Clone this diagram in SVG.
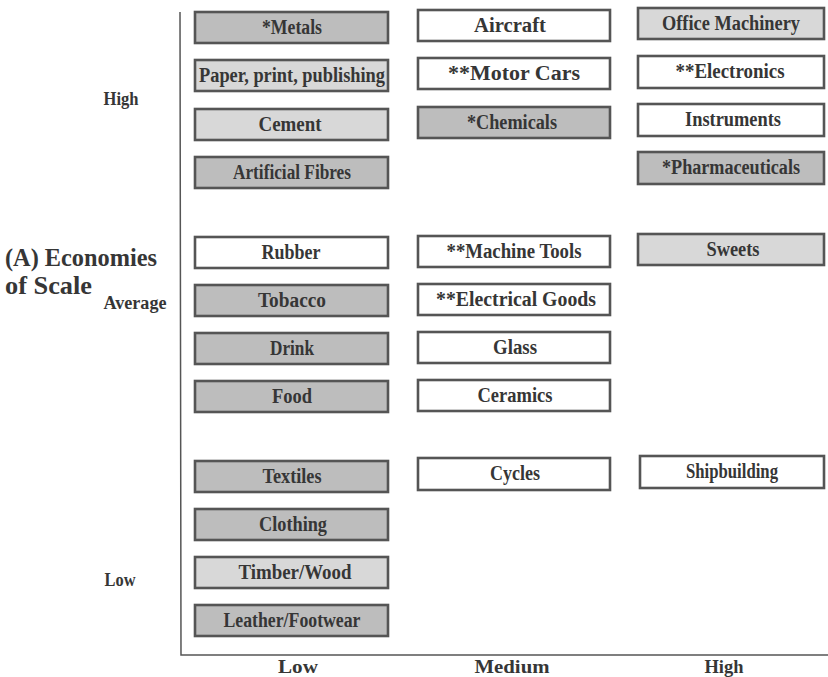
<svg xmlns="http://www.w3.org/2000/svg" width="828" height="677" viewBox="0 0 828 677">
<style>
.box{stroke:#555555;stroke-width:2.6}
.w{fill:#ffffff}
.d{fill:#bdbdbd}
.l{fill:#d8d8d8}
text{font-family:"Liberation Serif","Times New Roman",serif;font-weight:bold;fill:#363636;text-anchor:middle}
.bt{font-size:20px}
.ax{font-size:18px}
.title{font-size:25px;text-anchor:start}
.axis{stroke:#555;stroke-width:1.5;fill:none}
</style>
<rect width="828" height="677" fill="#ffffff"/>
<g id="axes">
<polyline class="axis" points="180,12 181,655 828,655"/>
</g>
<g id="labels">
<text class="ax" x="121" y="105" textLength="35" lengthAdjust="spacingAndGlyphs">High</text>
<text class="title" x="5" y="266" textLength="152" lengthAdjust="spacingAndGlyphs">(A) Economies</text>
<text class="title" x="5" y="294" textLength="87" lengthAdjust="spacingAndGlyphs">of Scale</text>
<text class="ax" x="135" y="309" textLength="63" lengthAdjust="spacingAndGlyphs">Average</text>
<text class="ax" x="120" y="586" textLength="31" lengthAdjust="spacingAndGlyphs">Low</text>
<text class="ax" x="298" y="673" textLength="40" lengthAdjust="spacingAndGlyphs">Low</text>
<text class="ax" x="512" y="673" textLength="75" lengthAdjust="spacingAndGlyphs">Medium</text>
<text class="ax" x="724" y="673" textLength="39" lengthAdjust="spacingAndGlyphs">High</text>
</g>
<g id="n-metals"><rect class="box d" x="195" y="12" width="193" height="31"/><text class="bt" x="292" y="34" textLength="60" lengthAdjust="spacingAndGlyphs">*Metals</text></g>
<g id="n-paper"><rect class="box l" x="195" y="60" width="193" height="31"/><text class="bt" x="292" y="82" textLength="186" lengthAdjust="spacingAndGlyphs">Paper, print, publishing</text></g>
<g id="n-cement"><rect class="box l" x="195" y="109" width="193" height="31"/><text class="bt" x="290" y="131" textLength="63" lengthAdjust="spacingAndGlyphs">Cement</text></g>
<g id="n-fibres"><rect class="box d" x="195" y="157" width="193" height="31"/><text class="bt" x="292" y="179" textLength="118" lengthAdjust="spacingAndGlyphs">Artificial Fibres</text></g>
<g id="n-rubber"><rect class="box w" x="195" y="237" width="193" height="31"/><text class="bt" x="291" y="259" textLength="59" lengthAdjust="spacingAndGlyphs">Rubber</text></g>
<g id="n-tobacco"><rect class="box d" x="195" y="285" width="193" height="31"/><text class="bt" x="292" y="307" textLength="68" lengthAdjust="spacingAndGlyphs">Tobacco</text></g>
<g id="n-drink"><rect class="box d" x="195" y="333" width="193" height="31"/><text class="bt" x="292" y="355" textLength="44" lengthAdjust="spacingAndGlyphs">Drink</text></g>
<g id="n-food"><rect class="box d" x="195" y="381" width="193" height="31"/><text class="bt" x="292" y="403" textLength="40" lengthAdjust="spacingAndGlyphs">Food</text></g>
<g id="n-textiles"><rect class="box d" x="195" y="461" width="193" height="31"/><text class="bt" x="292" y="483" textLength="59" lengthAdjust="spacingAndGlyphs">Textiles</text></g>
<g id="n-clothing"><rect class="box d" x="195" y="509" width="193" height="31"/><text class="bt" x="293" y="531" textLength="68" lengthAdjust="spacingAndGlyphs">Clothing</text></g>
<g id="n-timber"><rect class="box l" x="195" y="557" width="193" height="31"/><text class="bt" x="295" y="579" textLength="113" lengthAdjust="spacingAndGlyphs">Timber/Wood</text></g>
<g id="n-leather"><rect class="box d" x="195" y="605" width="193" height="31"/><text class="bt" x="292" y="627" textLength="137" lengthAdjust="spacingAndGlyphs">Leather/Footwear</text></g>
<g id="n-aircraft"><rect class="box w" x="418" y="10" width="192" height="31"/><text class="bt" x="510" y="32" textLength="72" lengthAdjust="spacingAndGlyphs">Aircraft</text></g>
<g id="n-motorcars"><rect class="box w" x="418" y="58" width="192" height="31"/><text class="bt" x="514" y="80" textLength="132" lengthAdjust="spacingAndGlyphs">**Motor Cars</text></g>
<g id="n-chemicals"><rect class="box d" x="418" y="107" width="192" height="31"/><text class="bt" x="512" y="129" textLength="90" lengthAdjust="spacingAndGlyphs">*Chemicals</text></g>
<g id="n-machinetools"><rect class="box w" x="418" y="236" width="192" height="31"/><text class="bt" x="514" y="258" textLength="135" lengthAdjust="spacingAndGlyphs">**Machine Tools</text></g>
<g id="n-electrical"><rect class="box w" x="418" y="284" width="192" height="31"/><text class="bt" x="516" y="306" textLength="160" lengthAdjust="spacingAndGlyphs">**Electrical Goods</text></g>
<g id="n-glass"><rect class="box w" x="418" y="332" width="192" height="31"/><text class="bt" x="515" y="354" textLength="44" lengthAdjust="spacingAndGlyphs">Glass</text></g>
<g id="n-ceramics"><rect class="box w" x="418" y="380" width="192" height="31"/><text class="bt" x="515" y="402" textLength="75" lengthAdjust="spacingAndGlyphs">Ceramics</text></g>
<g id="n-cycles"><rect class="box w" x="418" y="458" width="192" height="32"/><text class="bt" x="515" y="480" textLength="50" lengthAdjust="spacingAndGlyphs">Cycles</text></g>
<g id="n-office"><rect class="box l" x="638" y="8" width="186" height="31"/><text class="bt" x="731" y="30" textLength="138" lengthAdjust="spacingAndGlyphs">Office Machinery</text></g>
<g id="n-electronics"><rect class="box w" x="638" y="56" width="186" height="32"/><text class="bt" x="730" y="78" textLength="109" lengthAdjust="spacingAndGlyphs">**Electronics</text></g>
<g id="n-instruments"><rect class="box w" x="638" y="104" width="186" height="32"/><text class="bt" x="733" y="126" textLength="96" lengthAdjust="spacingAndGlyphs">Instruments</text></g>
<g id="n-pharma"><rect class="box d" x="638" y="152" width="186" height="32"/><text class="bt" x="731" y="174" textLength="138" lengthAdjust="spacingAndGlyphs">*Pharmaceuticals</text></g>
<g id="n-sweets"><rect class="box l" x="638" y="234" width="186" height="31"/><text class="bt" x="733" y="256" textLength="53" lengthAdjust="spacingAndGlyphs">Sweets</text></g>
<g id="n-shipbuilding"><rect class="box w" x="640" y="456" width="184" height="32"/><text class="bt" x="732" y="478" textLength="92" lengthAdjust="spacingAndGlyphs">Shipbuilding</text></g>
<g id="connectors"></g>
</svg>
